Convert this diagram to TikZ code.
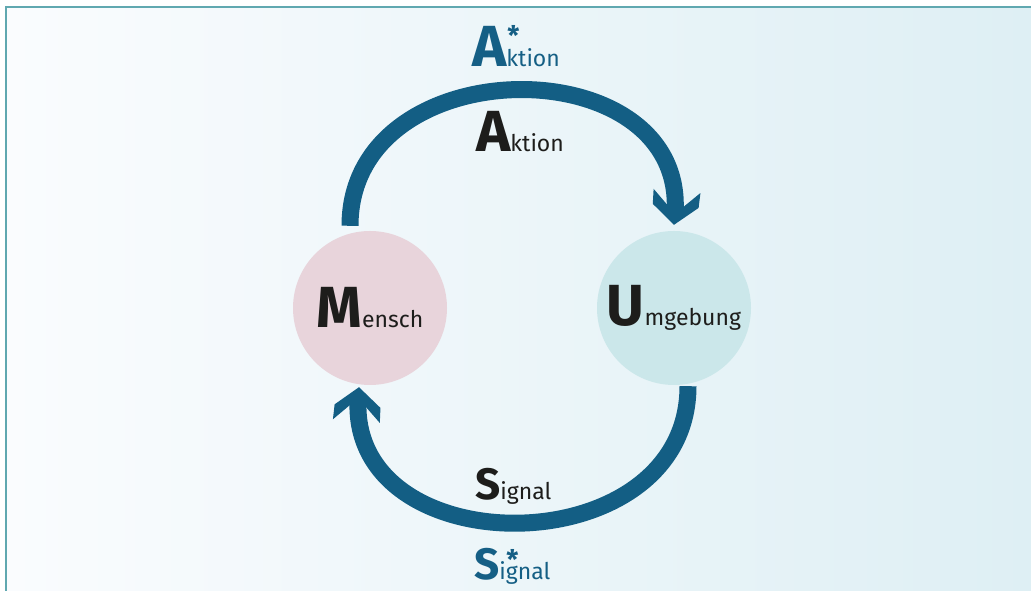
\documentclass[tikz,border=0pt]{standalone}
\usepackage{fontspec}
\setmainfont{Fira Sans}
\usetikzlibrary{arrows.meta}
\definecolor{pfeil}{RGB}{19,94,132}
\definecolor{blautext}{RGB}{21,95,133}
\definecolor{schwarz}{RGB}{29,29,27}
\definecolor{rosa}{RGB}{232,212,219}
\definecolor{tuerkis}{RGB}{203,231,234}
\definecolor{rahmen}{RGB}{96,168,176}
\definecolor{hgl}{RGB}{250,252,254}
\definecolor{hgr}{RGB}{222,239,244}
% breite Pfeilspitze mit Kerbe
\pgfdeclarearrow{
  name = Winkel,
  setup code = {
    \pgfarrowssettipend{0pt}
    \pgfarrowssetlineend{-9pt}
    \pgfarrowssetvisualbackend{-34pt}
    \pgfarrowssetbackend{-34pt}
    \pgfarrowshullpoint{0pt}{0pt}
    \pgfarrowshullpoint{-34pt}{24pt}
    \pgfarrowshullpoint{-34pt}{-24pt}
  },
  drawing code = {
    \pgfpathmoveto{\pgfqpoint{0pt}{0pt}}
    \pgfpathlineto{\pgfqpoint{-19pt}{23pt}}
    \pgfpathlineto{\pgfqpoint{-34pt}{23.5pt}}
    \pgfpathlineto{\pgfqpoint{-11pt}{0pt}}
    \pgfpathlineto{\pgfqpoint{-34pt}{-23.5pt}}
    \pgfpathlineto{\pgfqpoint{-19pt}{-23pt}}
    \pgfpathclose
    \pgfusepathqfill
  }
}
% grosser fetter Anfangsbuchstabe, Rest klein
\newcommand{\wort}[3]{{\bfseries\fontsize{#1}{#1}\selectfont #2}{\fontsize{23}{23}\selectfont #3}}
\newcommand{\wortstern}[5]{{\bfseries\fontsize{#1}{#1}\selectfont #4}\rlap{\kern#2\raisebox{#3}{\bfseries\fontsize{27}{27}\selectfont *}}{\fontsize{23}{23}\selectfont #5}}
\begin{document}
\begin{tikzpicture}[x=1pt, y=1pt,
  kreis/.style={circle, inner sep=0pt, minimum size=154pt, text=schwarz},
  bogen/.style={draw=pfeil, line width=17pt, -{Winkel}},
  schrift/.style={anchor=base west, inner sep=0pt}]

% Hintergrund und Rahmen
\useasboundingbox (0,0) rectangle (1031,591);
\shade[left color=hgl, right color=hgr] (6,0) rectangle (1031,584);
\draw[rahmen, line width=1.5pt] (6,0) -- (6,584) -- (1031,584);

% Kreise
\node[kreis, fill=rosa] (mensch) at (370,283) {\wort{58}{M}{ensch}};
\node[kreis, fill=tuerkis] (umgebung) at (674,283) {\wort{58}{U}{mgebung}};

% Pfeile
\draw[bogen] ([shift={(-20,5)}]mensch.north) .. controls +(0,180) and +(16,179) .. ([yshift=6pt]umgebung.north);
\draw[bogen] ([shift={(14,-1)}]umgebung.south) .. controls +(0,-181) and +(-14,-180) .. ([shift={(-11,-2)}]mensch.south);

% Beschriftungen
\node[schrift, text=blautext] (aktionstern) at (472,524) {\wortstern{58}{1pt}{21pt}{A}{ktion}};
\node[schrift, text=schwarz] (aktion) at (476,439) {\wort{58}{A}{ktion}};
\node[schrift, text=schwarz] (signal) at (475,91) {\wort{44}{S}{ignal}};
\node[schrift, text=blautext] (signalstern) at (474,11) {\wortstern{44}{7pt}{10pt}{S}{ignal}};
\end{tikzpicture}
\end{document}
